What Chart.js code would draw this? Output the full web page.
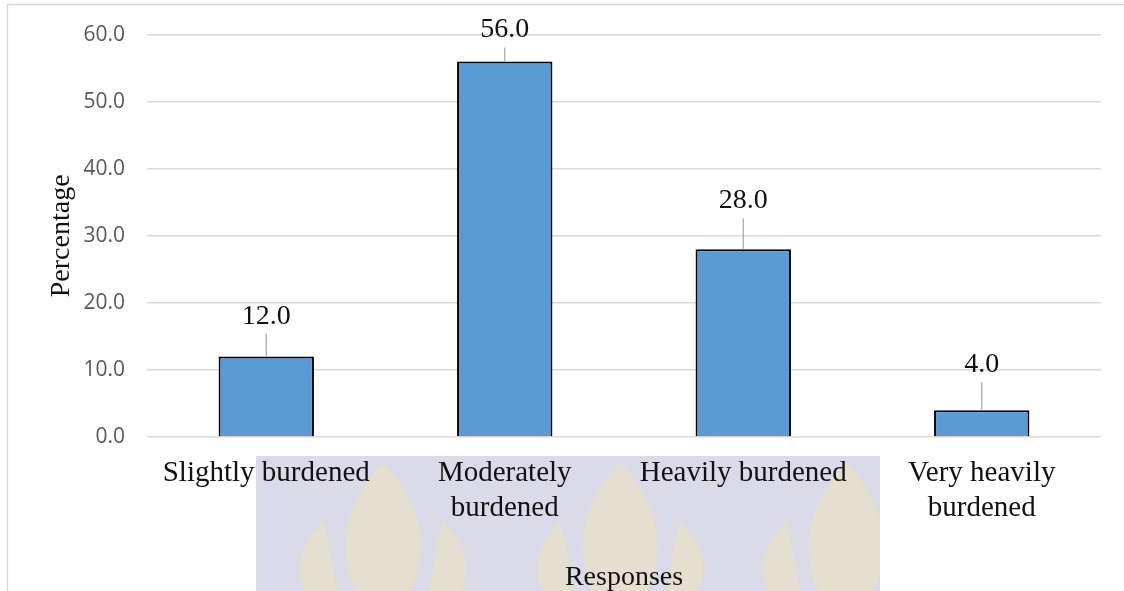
<!DOCTYPE html>
<html>
<head>
<meta charset="utf-8">
<script src="https://cdn.jsdelivr.net/npm/chart.js@4.4.1/dist/chart.umd.min.js"></script>
<style>
  html, body { margin: 0; padding: 0; background: #ffffff; }
  #wrap { position: relative; width: 1124px; height: 591px; }
</style>
</head>
<body>
<div id="wrap"><canvas id="chart"></canvas></div>
<script>
// Burden levels reported by respondents (percent)
const categories = [
  'Slightly burdened',
  ['Moderately', 'burdened'],
  'Heavily burdened',
  ['Very heavily', 'burdened']
];
const percentages = [12.0, 56.0, 28.0, 4.0];
const yTickMin = 0;
const yTickMax = 60;
const yTickStep = 10;
const yAxisTitle = 'Percentage';
const xAxisTitle = 'Responses';

const serif = '"Liberation Serif", "Times New Roman", serif';
const sans = '"Open Sans", "Liberation Sans", sans-serif';

// Page backdrop: frame lines and the faint emblem band behind the lower labels
const backdrop = {
  id: 'backdrop',
  beforeDraw(chart) {
    const ctx = chart.ctx;
    const W = chart.width, H = chart.height;
    ctx.save();
    ctx.fillStyle = '#ffffff';
    ctx.fillRect(0, 0, W, H);

    ctx.fillStyle = '#dadae8';
    ctx.fillRect(256, 456, 624, H - 456);

    ctx.save();
    ctx.beginPath();
    ctx.rect(256, 456, 624, H - 456);
    ctx.clip();
    ctx.fillStyle = 'rgba(238, 228, 180, 0.5)';
    [383, 620, 846].forEach(cx => {
      // central flame
      ctx.beginPath();
      ctx.moveTo(cx, 462);
      ctx.bezierCurveTo(cx + 40, 505, cx + 46, 550, cx + 28, H);
      ctx.lineTo(cx - 28, H);
      ctx.bezierCurveTo(cx - 46, 550, cx - 40, 505, cx, 462);
      ctx.fill();
      // side flames
      [-1, 1].forEach(s => {
        ctx.beginPath();
        ctx.moveTo(cx + s * 60, 522);
        ctx.bezierCurveTo(cx + s * 88, 548, cx + s * 86, 575, cx + s * 78, H);
        ctx.lineTo(cx + s * 46, H);
        ctx.bezierCurveTo(cx + s * 50, 572, cx + s * 52, 548, cx + s * 60, 522);
        ctx.fill();
      });
    });
    ctx.restore();

    ctx.strokeStyle = '#d9d9d9';
    ctx.lineWidth = 1.5;
    ctx.beginPath();
    ctx.moveTo(7.5, H);
    ctx.lineTo(7.5, 4.5);
    ctx.lineTo(W, 4.5);
    ctx.stroke();
    ctx.restore();
  }
};

// Value labels above each bar with a short leader line down to the bar top
const valueLabels = {
  id: 'valueLabels',
  afterDatasetsDraw(chart, args, opts) {
    const ctx = chart.ctx;
    const meta = chart.getDatasetMeta(0);
    const values = chart.data.datasets[0].data;
    ctx.save();
    meta.data.forEach((bar, i) => {
      const lift = opts.lift[i];
      const baseY = bar.y - lift;
      ctx.strokeStyle = '#a6a6a6';
      ctx.lineWidth = 1.2;
      ctx.beginPath();
      ctx.moveTo(bar.x, baseY + 10);
      ctx.lineTo(bar.x, bar.y);
      ctx.stroke();
      ctx.fillStyle = '#111111';
      ctx.font = '28px ' + serif;
      ctx.textAlign = 'center';
      ctx.textBaseline = 'alphabetic';
      ctx.fillText(values[i].toFixed(1), bar.x, baseY);
    });
    ctx.restore();
  }
};

new Chart(document.getElementById('chart'), {
  type: 'bar',
  data: {
    labels: categories,
    datasets: [{
      data: percentages,
      backgroundColor: '#5b9bd5',
      borderColor: '#000000',
      borderWidth: 2,
      categoryPercentage: 1.0,
      barPercentage: 0.4
    }]
  },
  plugins: [backdrop, valueLabels],
  options: {
    responsive: true,
    maintainAspectRatio: false,
    animation: false,
    layout: { padding: { left: 10, top: 34, right: 23, bottom: 0 } },
    plugins: {
      legend: { display: false },
      tooltip: { enabled: false },
      valueLabels: { lift: [33, 24, 41, 38] }
    },
    scales: {
      x: {
        grid: { display: false, drawTicks: false },
        border: { display: false },
        ticks: {
          color: '#111111',
          font: { family: serif, size: 29, lineHeight: 1.2 },
          padding: 19,
          maxRotation: 0,
          autoSkip: false
        },
        title: {
          display: true,
          text: xAxisTitle,
          color: '#111111',
          font: { family: serif, size: 28, lineHeight: 0.93 },
          padding: { top: 0, bottom: 0 }
        },
        afterFit(scale) { scale.height = 154; }
      },
      y: {
        min: yTickMin,
        max: yTickMax,
        grid: { color: '#d9d9d9', lineWidth: 1.5, drawTicks: false },
        border: { display: false },
        ticks: {
          stepSize: yTickStep,
          color: '#595959',
          font: { family: sans, size: 21 },
          padding: 22,
          callback: v => Number(v).toFixed(1)
        },
        title: {
          display: true,
          text: yAxisTitle,
          color: '#111111',
          font: { family: serif, size: 28, lineHeight: 1.2 },
          padding: { top: 35, bottom: 0 }
        },
        afterFit(scale) { scale.width = 137; }
      }
    }
  }
});
</script>
</body>
</html>
